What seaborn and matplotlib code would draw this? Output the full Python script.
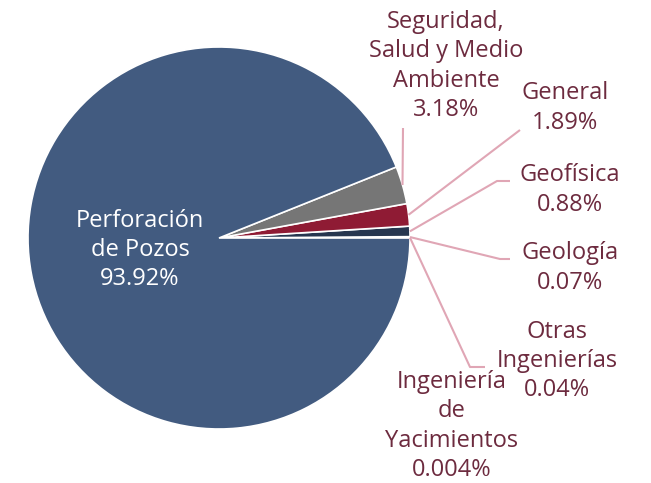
import numpy as np
import matplotlib
matplotlib.use("Agg")
import matplotlib.pyplot as plt
import seaborn as sns

# ---------------------------
# DATA
# ---------------------------
categorias = ["Ingeniería de Yacimientos", "Otras Ingenierías", "Geología", "Geofísica",
              "General", "Seguridad, Salud y Medio Ambiente", "Perforación de Pozos"]
etiquetas = ["Ingeniería\nde\nYacimientos\n0.004%", "Otras\nIngenierías\n0.04%", "Geología\n0.07%",
             "Geofísica\n0.88%", "General\n1.89%", "Seguridad,\nSalud y Medio\nAmbiente\n3.18%",
             "Perforación\nde Pozos\n93.92%"]
porcentajes = [0.004, 0.04, 0.07, 0.88, 1.89, 3.18, 93.92]
colores = ["#5b6f8f", "#9a9a9a", "#b5405a", "#26364f", "#8f1b34", "#767676", "#425b80"]

TEXT_COLOR = "#6d2b3f"
LINE_COLOR = "#e0a6b5"

sns.set_theme(style="white")
plt.rcParams["font.family"] = ["Open Sans", "DejaVu Sans"]

# pixel helpers (pie centre at 219,238 px, radius 191 px)
CX, CY, R = 219, 238, 191
def px(x, y):
    return ((x - CX) / R, (CY - y) / R)

fig = plt.figure(figsize=(6.51, 4.83), dpi=100)
ax = fig.add_axes([0, 0, 1, 1])
wedges, _ = ax.pie(porcentajes, colors=colores, startangle=0, counterclock=True, radius=1,
                   wedgeprops=dict(edgecolor="white", linewidth=1.2))
ax.set_xlim(-CX / R, (651 - CX) / R)
ax.set_ylim(-(483 - CY) / R, CY / R)
ax.set_aspect("equal")
ax.axis("off")

# label text centres and leader elbows (pixels)
label_pos = {
    "Perforación de Pozos": (140, 250),
    "Seguridad, Salud y Medio Ambiente": (446, 66),
    "General": (565, 108),
    "Geofísica": (570, 190),
    "Geología": (570, 268),
    "Otras Ingenierías": (557, 361),
    "Ingeniería de Yacimientos": (452, 426),
}
elbows = {
    "Seguridad, Salud y Medio Ambiente": [(403, 128)],
    "General": [(520, 130)],
    "Geofísica": [(497, 181), (510, 181)],
    "Geología": [(500, 259), (510, 259)],
    "Otras Ingenierías": [(470, 367), (485, 367)],
}

FS = 17
LS = 1.3
for w, cat, lab in zip(wedges, categorias, etiquetas):
    mid = np.deg2rad((w.theta1 + w.theta2) / 2)
    tx, ty = px(*label_pos[cat])
    if cat == "Perforación de Pozos":
        ax.text(tx, ty, lab, ha="center", va="center", color="white", fontsize=FS,
                linespacing=LS)
        continue
    ax.text(tx, ty, lab, ha="center", va="center", color=TEXT_COLOR, fontsize=FS,
            linespacing=LS)
    if cat in elbows:
        pts = [(np.cos(mid), np.sin(mid))] + [px(*p) for p in elbows[cat]]
        xs, ys = zip(*pts)
        ax.plot(xs, ys, color=LINE_COLOR, lw=1.5, solid_capstyle="butt")

fig.savefig("out.png", dpi=100, facecolor="white")
